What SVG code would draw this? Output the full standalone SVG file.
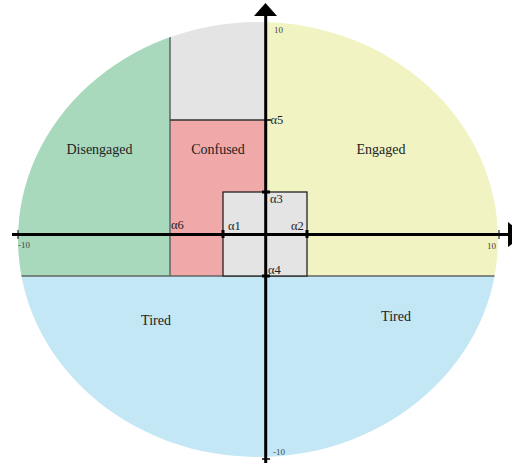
<svg xmlns="http://www.w3.org/2000/svg" width="512" height="463" viewBox="0 0 512 463">
<style>
.lbl{font-family:"Liberation Serif","Times New Roman",serif;font-size:14px;fill:#222}
.al{font-family:"Liberation Serif","Times New Roman",serif;font-size:12.5px;fill:#222}
.ax{font-family:"Liberation Serif","Times New Roman",serif;font-size:9px;fill:#444}
.axis{stroke:#000;stroke-width:3;fill:none}
.tick{stroke:#000;stroke-width:3}
.div{stroke:#5f6663;stroke-width:1.5}
</style>
<defs>
<clipPath id="ell"><ellipse cx="258" cy="239.5" rx="240" ry="217.5"/></clipPath>
</defs>
<g id="regions" clip-path="url(#ell)">
<g id="tired"><rect x="0" y="276" width="512" height="200" fill="#c3e7f5"/></g>
<g id="disengaged"><rect x="0" y="0" width="170" height="276" fill="#a8d9bd"/></g>
<g id="unknown"><rect x="170" y="0" width="96" height="120" fill="#e4e4e4"/></g>
<g id="confused"><rect x="170" y="120" width="96" height="156" fill="#f0a8a8"/></g>
<g id="engaged"><rect x="266" y="0" width="246" height="276" fill="#f1f3c2"/></g>
<line class="div" x1="0" y1="276" x2="512" y2="276"/>
<line class="div" x1="170" y1="0" x2="170" y2="276"/>
<line x1="170" y1="120" x2="266" y2="120" stroke="#333" stroke-width="1.5"/>
</g>
<g id="center-box"><rect x="223" y="192" width="84" height="84" fill="#e4e4e4" stroke="#222" stroke-width="1.3"/></g>
<g id="connectors">
<line class="axis" x1="12" y1="234.5" x2="510" y2="234.5" stroke-width="2.5"/>
<line class="axis" x1="265.7" y1="14" x2="265.7" y2="463"/>
<polygon points="254,16 277,16 265.5,3" fill="#000"/>
<polygon points="508,222 508,247 524,234.5" fill="#000"/>
<line x1="18" y1="230" x2="18" y2="239" stroke="#000" stroke-width="1"/>
<line x1="499" y1="230" x2="499" y2="239" stroke="#000" stroke-width="1"/>
<line x1="262" y1="459" x2="270" y2="459" stroke="#000" stroke-width="1.5"/>
<line class="tick" x1="262" y1="192" x2="270" y2="192"/>
<line class="tick" x1="262" y1="276" x2="270" y2="276"/>
<line class="tick" x1="223" y1="230" x2="223" y2="238"/>
<line class="tick" x1="307" y1="230" x2="307" y2="238"/>
<line x1="266" y1="120" x2="271" y2="120" stroke="#000" stroke-width="1.5"/>
</g>
<g id="labels">
<text class="lbl" x="99.5" y="154" text-anchor="middle">Disengaged</text>
<text class="lbl" x="218" y="154" text-anchor="middle">Confused</text>
<text class="lbl" x="381" y="154" text-anchor="middle">Engaged</text>
<text class="lbl" x="156" y="325" text-anchor="middle">Tired</text>
<text class="lbl" x="396" y="321" text-anchor="middle">Tired</text>
<text class="al" x="270.5" y="124">α5</text>
<text class="al" x="270" y="203">α3</text>
<text class="al" x="228" y="230">α1</text>
<text class="al" x="291" y="230">α2</text>
<text class="al" x="171" y="229">α6</text>
<text class="al" x="268" y="274">α4</text>
<text class="ax" x="274" y="33">10</text>
<text class="ax" x="18" y="248">-10</text>
<text class="ax" x="487" y="249">10</text>
<text class="ax" x="273" y="455">-10</text>
</g>
</svg>
